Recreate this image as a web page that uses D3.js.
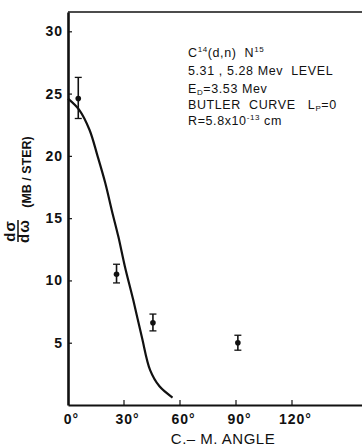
<!DOCTYPE html>
<html>
<head>
<meta charset="utf-8">
<script src="https://cdn.jsdelivr.net/npm/d3@7"></script>
<style>
  body { margin: 0; background: #fff; }
  svg { display: block; }
  text { font-family: "Liberation Sans", Arial, sans-serif; fill: #111; white-space: pre; }
</style>
</head>
<body>
<div class="chart"></div>
<script>
// measured points (C.M. angle in degrees, cross section in mb/ster)
const angle = [5.5, 26, 45.5, 91]
const value = [24.6, 10.5, 6.6, 5.0]
const errHi = [26.3, 11.3, 7.3, 5.6]
const errLo = [23.0, 9.8, 5.95, 4.4]

// Butler curve
const curveAngle = [0, 6, 11.5, 16, 20, 23.5, 27, 30.5, 35, 39.5, 44, 49, 56]
const curveValue = [24.6, 23.7, 22.1, 19.9, 17.8, 15.6, 13.5, 11.1, 8.4, 5.5, 2.8, 1.5, 0.6]

const yTicks = [5, 10, 15, 20, 25, 30]
const xTicks = [0, 30, 60, 90, 120]
const xTicksMarked = [30, 60, 90, 120]

const width = 362
    height = 446

const svg = d3.select(".chart")
  .append("svg")
    .attr("width", width)
    .attr("height", height)

const x = d3.scaleLinear().domain([0, 157.5]).range([68, 362])
const y = d3.scaleLinear().domain([0, 31.55]).range([405, 12])

// frame: top line, left axis, bottom axis (open on the right)
svg.append("line")
  .attr("x1", x(0)).attr("x2", width)
  .attr("y1", y(31.55)).attr("y2", y(31.55))
  .attr("stroke", "#111").attr("stroke-width", 1.6)

const yAxis = svg.append("g")
  .attr("transform", "translate(" + x(0) + ",0)")
  .call(d3.axisLeft(y).tickValues(yTicks).tickSize(-4).tickSizeOuter(0).tickPadding(5))
yAxis.select(".domain").attr("stroke", "#111").attr("stroke-width", 2.6)
yAxis.selectAll(".tick line").attr("stroke", "#111").attr("stroke-width", 1.2)
yAxis.selectAll(".tick text")
  .style("font-family", "Liberation Sans, Arial, sans-serif")
  .style("font-size", "14px").style("font-weight", "bold")
  .style("letter-spacing", "1px")
  .attr("fill", "#111")

const xAxis = svg.append("g")
  .attr("transform", "translate(0," + y(0) + ")")
  .call(d3.axisBottom(x).tickValues(xTicks).tickSize(0).tickPadding(9)
    .tickFormat(d => d + "°"))
xAxis.select(".domain").attr("stroke", "#111").attr("stroke-width", 2.2)
xAxis.selectAll(".tick text")
  .attr("dx", 3)
  .style("font-family", "Liberation Sans, Arial, sans-serif")
  .style("font-size", "14px").style("font-weight", "bold")
  .style("letter-spacing", "1px")
  .attr("fill", "#111")

// little upward ticks on the bottom axis
svg.selectAll("xtick")
  .data(xTicksMarked)
  .enter()
  .append("line")
  .attr("x1", d => x(d)).attr("x2", d => x(d))
  .attr("y1", y(0)).attr("y2", y(0) - 5)
  .attr("stroke", "#111").attr("stroke-width", 1.2)

// Butler curve
const line = d3.line()
  .x(d => x(d[0]))
  .y(d => y(d[1]))
  .curve(d3.curveCatmullRom)
svg.append("path")
  .datum(d3.zip(curveAngle, curveValue))
  .attr("d", line)
  .attr("fill", "none")
  .attr("stroke", "#111")
  .attr("stroke-width", 2.2)

// data points with error bars
const pts = d3.range(angle.length).map(i => ({a: angle[i], v: value[i], hi: errHi[i], lo: errLo[i]}))
const g = svg.selectAll("pt").data(pts).enter().append("g")
g.append("line")
  .attr("x1", d => x(d.a)).attr("x2", d => x(d.a))
  .attr("y1", d => y(d.hi)).attr("y2", d => y(d.lo))
  .attr("stroke", "#111").attr("stroke-width", 1.6)
g.append("line")
  .attr("x1", d => x(d.a) - 3.5).attr("x2", d => x(d.a) + 3.5)
  .attr("y1", d => y(d.hi)).attr("y2", d => y(d.hi))
  .attr("stroke", "#111").attr("stroke-width", 1.3)
g.append("line")
  .attr("x1", d => x(d.a) - 3.5).attr("x2", d => x(d.a) + 3.5)
  .attr("y1", d => y(d.lo)).attr("y2", d => y(d.lo))
  .attr("stroke", "#111").attr("stroke-width", 1.3)
g.append("circle")
  .attr("cx", d => x(d.a)).attr("cy", d => y(d.v))
  .attr("r", 2.8)
  .attr("fill", "#111")

// axis titles
svg.append("text")
  .attr("x", 223).attr("y", 444)
  .attr("text-anchor", "middle")
  .style("font-size", "15px")
  .style("letter-spacing", "0.5px")
  .text("C.– M. ANGLE")

svg.append("text")
  .attr("transform", "translate(31,172) rotate(-90)")
  .attr("text-anchor", "middle")
  .style("font-size", "12.5px").style("font-weight", "bold")
  .text("(MB / STER)")

const frac = svg.append("g").attr("transform", "translate(18,231) rotate(-90)")
frac.append("text").attr("x", 0).attr("y", -3)
  .attr("text-anchor", "middle")
  .style("font-size", "15px").style("font-weight", "bold")
  .style("letter-spacing", "1px")
  .text("dσ")
frac.append("line")
  .attr("x1", -11).attr("x2", 11).attr("y1", 0).attr("y2", 0)
  .attr("stroke", "#111").attr("stroke-width", 1.5)
frac.append("text").attr("x", 0).attr("y", 11)
  .attr("text-anchor", "middle")
  .style("font-size", "15px").style("font-weight", "bold")
  .style("letter-spacing", "1px")
  .text("dω")

// annotation block
const note = svg.append("g")
  .style("font-size", "12.5px")
  .style("letter-spacing", "0.6px")

const t1 = note.append("text").attr("x", 188).attr("y", 56.7)
t1.append("tspan").text("C")
t1.append("tspan").attr("dy", -5).style("font-size", "8px").text("14")
t1.append("tspan").attr("dy", 5).text("(d,n)  N")
t1.append("tspan").attr("dy", -5).style("font-size", "8px").text("15")

note.append("text").attr("x", 188).attr("y", 75).text("5.31 , 5.28 Mev  LEVEL")

const t3 = note.append("text").attr("x", 188).attr("y", 92.7)
t3.append("tspan").text("E")
t3.append("tspan").attr("dy", 2).style("font-size", "8px").text("D")
t3.append("tspan").attr("dy", -2).text("=3.53 Mev")

const t4 = note.append("text").attr("x", 188).attr("y", 109.3)
t4.append("tspan").text("BUTLER  CURVE   L")
t4.append("tspan").attr("dy", 2).style("font-size", "8px").text("P")
t4.append("tspan").attr("dy", -2).text("=0")

const t5 = note.append("text").attr("x", 188).attr("y", 125)
t5.append("tspan").text("R=5.8x10")
t5.append("tspan").attr("dy", -5).style("font-size", "8px").text("-13")
t5.append("tspan").attr("dy", 5).text(" cm")
</script>
</body>
</html>
